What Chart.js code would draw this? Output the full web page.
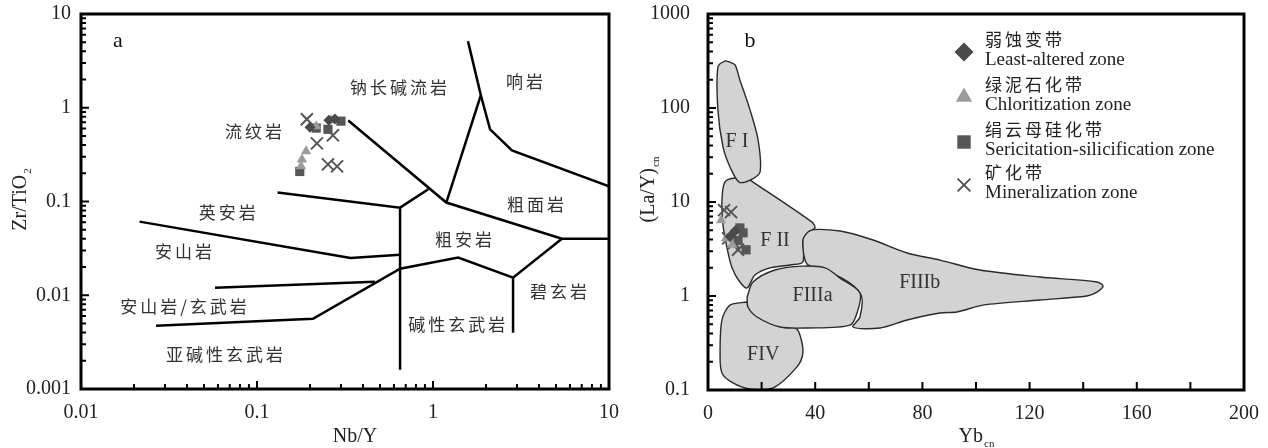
<!DOCTYPE html>
<html>
<head>
<meta charset="utf-8">
<script src="https://cdn.jsdelivr.net/npm/chart.js@4.4.0/dist/chart.umd.min.js"></script>
<style>
  html, body { margin: 0; padding: 0; background: #fff; }
  #wrap { position: relative; width: 1268px; height: 448px; }
  .box { position: absolute; top: 0; width: 634px; height: 448px; }
</style>
</head>
<body>
<div id="wrap">
  <div class="box" style="left:0"><canvas id="chartA" width="634" height="448"></canvas></div>
  <div class="box" style="left:634px"><canvas id="chartB" width="634" height="448"></canvas></div>
</div>
<script>
// ---- panel a : Nb/Y vs Zr/TiO2 ----
var aLeastAltered = [[0.200, 0.618], [0.256, 0.735], [0.277, 0.76]];
var aChlorite = [[0.217, 0.634], [0.263, 0.735], [0.190, 0.343], [0.180, 0.281], [0.178, 0.237]];
var aSericite = [[0.217, 0.607], [0.253, 0.589], [0.300, 0.72], [0.175, 0.209]];
var aMineral = [[0.192, 0.753], [0.270, 0.508], [0.219, 0.417], [0.253, 0.249], [0.285, 0.237]];

// field boundaries (Winchester & Floyd)
var aBoundaries = [
  [[0.33, 0.73], [1.19, 0.0975], [5.4, 0.040], [10, 0.040]],
  [[0.131, 0.125], [0.65, 0.086], [0.94, 0.135]],
  [[0.65, 0.086], [0.65, 0.0016]],
  [[0.0215, 0.061], [0.34, 0.025], [0.65, 0.027]],
  [[0.0577, 0.012], [0.468, 0.0139]],
  [[0.0267, 0.00472], [0.208, 0.0056], [0.65, 0.0192], [1.39, 0.0252], [2.85, 0.0154], [5.4, 0.040]],
  [[2.85, 0.0154], [2.85, 0.00397]],
  [[1.19, 0.0975], [1.87, 1.36], [1.58, 5.14]],
  [[1.87, 1.36], [2.11, 0.589], [2.81, 0.351], [10, 0.145]]
];
var aFieldNames = ['钠长碱流岩', '响岩', '流纹岩', '粗面岩', '英安岩', '安山岩', '粗安岩', '碧玄岩', '安山岩/玄武岩', '碱性玄武岩', '亚碱性玄武岩'];
var aFieldAt = [[0.65, 1.66], [3.38, 1.92], [0.0975, 0.56], [3.9, 0.093], [0.069, 0.076], [0.039, 0.0292], [1.52, 0.0392], [5.27, 0.0109], [0.039, 0.00753], [1.39, 0.00483], [0.0667, 0.00231]];
var aTickLabels = ['0.001', '0.01', '0.1', '1', '10'];   // 10^-3 .. 10^1
var aXTickLabels = ['0.01', '0.1', '1', '10'];           // 10^-2 .. 10^1

// ---- panel b : Ybcn vs (La/Y)cn ----
var bLeastAltered = [[10.1, 4.9], [8.2, 4.3]];
var bChlorite = [[4.9, 6.4], [6.7, 4.1], [9.0, 3.5]];
var bSericite = [[11.9, 5.3], [13.1, 4.7], [14.2, 3.1], [11.2, 3.9]];
var bMineral = [[6.0, 8.2], [8.6, 7.8], [7.5, 4.1], [9.7, 3.66], [11.2, 3.1]];

var fieldFI = [[8.2, 308], [6.3, 316], [3.7, 273], [3.7, 95], [5.6, 38.5], [8.2, 23.6], [11.6, 16.3], [15.7, 17.1], [19.4, 20.8], [18.7, 45.6], [15.7, 95], [11.9, 199], [10.1, 287], [8.2, 308]];
var fieldFII = [[15.7, 17.1], [38.8, 6.1], [39.9, 5.3], [37.3, 4.8], [35.4, 3.94], [35.4, 2.30], [30.6, 2.14], [23.1, 1.99], [17.5, 1.67], [14.6, 1.22], [11.9, 1.41], [9.0, 1.99], [7.1, 3.24], [5.6, 5.7], [5.2, 10.5], [6.3, 16.3], [10.1, 18.0], [15.7, 17.1]];
var fieldFIIIa = [[14.6, 0.975], [16.8, 1.41], [25, 1.89], [35.4, 2.08], [43.7, 1.99], [49.3, 1.55], [56.7, 1.08], [55.6, 0.66], [53.0, 0.49], [36.9, 0.457], [26.9, 0.468], [18.3, 0.598], [14.9, 0.764], [14.6, 0.975]];
var fieldFIIIb = [[35.4, 4.46], [37.3, 5.04], [49.3, 4.91], [61.6, 3.94], [74.3, 2.87], [86.6, 2.41], [101.5, 1.89], [123.9, 1.59], [145.1, 1.41], [147.4, 1.28], [145.1, 1.10], [141.4, 1.0], [123.9, 0.906], [102.6, 0.80], [92.9, 0.676], [86.6, 0.66], [74.3, 0.556], [64.2, 0.457], [54.1, 0.468], [56.7, 0.598], [57.1, 1.03], [50, 1.55], [37.3, 2.14], [35.4, 3.08], [35.4, 4.46]];
var fieldFIV = [[14.6, 0.863], [8.2, 0.80], [5.2, 0.556], [4.5, 0.248], [5.2, 0.152], [9.3, 0.119], [15.7, 0.1025], [24.3, 0.105], [33.2, 0.176], [35.4, 0.248], [34.3, 0.385], [32.5, 0.457], [26.9, 0.48], [18.3, 0.612], [14.6, 0.863]];
var bFieldNames = ['F I', 'F II', 'FIIIa', 'FIIIb', 'FIV'];
var bFieldAt = [[10.8, 43.5], [25, 3.85], [39, 1.0], [79, 1.38], [20.6, 0.236]];
var bYTickLabels = ['0.1', '1', '10', '100', '1000'];   // 10^-1 .. 10^3

var seriesNames = ['弱蚀变带', '绿泥石化带', '绢云母硅化带', '矿化带'];
var seriesNamesEn = ['Least-altered zone', 'Chloritization zone', 'Sericitation-silicification zone', 'Mineralization zone'];

var serif = '"Liberation Serif", "Times New Roman", serif';
var cjk = '"Noto Sans CJK SC", sans-serif';
var ink = '#222';

function pts(arr) {
  return arr.map(function(p) { return {x: p[0], y: p[1]}; });
}

function markerSets(lists) {
  var styles = [
    {pointStyle: 'rectRot', radius: 5.5, backgroundColor: '#4a4a4a', borderColor: '#4a4a4a', borderWidth: 0},
    {pointStyle: 'triangle', radius: 6, backgroundColor: '#9b9b9b', borderColor: '#9b9b9b', borderWidth: 0},
    {pointStyle: 'rect', radius: 6.5, backgroundColor: '#565656', borderColor: '#565656', borderWidth: 0},
    {pointStyle: 'crossRot', radius: 8.5, backgroundColor: '#555', borderColor: '#555', borderWidth: 2}
  ];
  return lists.map(function(list, i) {
    var s = styles[i];
    return {
      label: seriesNames[i],
      data: pts(list),
      showLine: false,
      pointStyle: s.pointStyle,
      pointRadius: s.radius,
      pointBackgroundColor: s.backgroundColor,
      pointBorderColor: s.borderColor,
      pointBorderWidth: s.borderWidth,
      order: 0
    };
  });
}

function logLabel(labels, first) {
  return function(v) {
    var e = Math.log10(v), r = Math.round(e);
    return Math.abs(e - r) < 1e-6 ? (labels[r - first] || '') : '';
  };
}

function logTickValues(min, max) {
  var out = [];
  for (var e = Math.round(Math.log10(min)); e < Math.round(Math.log10(max)); e++) {
    for (var k = 1; k < 10; k++) out.push({v: k * Math.pow(10, e), major: k === 1});
  }
  out.push({v: max, major: true});
  return out;
}

// fixed axis boxes so the plot area sits where the figure has it
function fixY(width) {
  return function(s) { s.width = width; s.paddingTop = 0; s.paddingBottom = 0; };
}
function fixX(height) {
  return function(s) { s.height = height; s.paddingLeft = 0; s.paddingRight = 0; };
}

function drawSub(ctx, main, sub, x, y, size) {
  ctx.font = size + 'px ' + serif;
  var w1 = ctx.measureText(main).width;
  ctx.font = (size * 0.55) + 'px ' + serif;
  var w2 = ctx.measureText(sub).width;
  var sx = x - (w1 + w2) / 2;
  ctx.textAlign = 'left';
  ctx.textBaseline = 'middle';
  ctx.font = size + 'px ' + serif;
  ctx.fillText(main, sx, y);
  ctx.font = (size * 0.55) + 'px ' + serif;
  ctx.fillText(sub, sx + w1 + 1, y + size * 0.38);
}

// frame with inward ticks, field names and axis titles
function framePlugin(cfg) {
  return {
    id: 'frame',
    afterDatasetsDraw: function(chart) {
      var ctx = chart.ctx, a = chart.chartArea;
      var xs = chart.scales.x, ys = chart.scales.y;
      ctx.save();
      ctx.strokeStyle = '#000';
      ctx.lineWidth = 3;
      ctx.strokeRect(a.left, a.top, a.right - a.left, a.bottom - a.top);

      ctx.lineWidth = 2;
      ctx.beginPath();
      cfg.xTicks.forEach(function(t) {
        var px = xs.getPixelForValue(t.v), len = t.major ? 8 : 5;
        ctx.moveTo(px, a.bottom);
        ctx.lineTo(px, a.bottom - len);
      });
      cfg.yTicks.forEach(function(t) {
        var py = ys.getPixelForValue(t.v), len = t.major ? 8 : 5;
        ctx.moveTo(a.left, py);
        ctx.lineTo(a.left + len, py);
      });
      ctx.stroke();

      // field names
      ctx.fillStyle = '#333';
      ctx.textAlign = 'center';
      ctx.textBaseline = 'middle';
      ctx.font = cfg.fieldFont;
      ctx.letterSpacing = cfg.spacing;
      cfg.names.forEach(function(n, i) {
        ctx.fillText(n, xs.getPixelForValue(cfg.at[i][0]), ys.getPixelForValue(cfg.at[i][1]));
      });
      ctx.letterSpacing = '0px';

      // panel letter
      ctx.fillStyle = '#111';
      ctx.font = '22px ' + serif;
      ctx.fillText(cfg.letter, a.left + cfg.letterAt[0], a.top + cfg.letterAt[1]);

      // axis titles
      ctx.fillStyle = ink;
      cfg.xTitle(ctx);
      cfg.yTitle(ctx);
      if (cfg.legend) cfg.legend(ctx, chart);
      ctx.restore();
    }
  };
}

var aLineSets = aBoundaries.map(function(seg) {
  return {
    data: pts(seg), showLine: true, borderColor: '#000', borderWidth: 2.5,
    pointRadius: 0, tension: 0, fill: false, order: 2
  };
});

new Chart(document.getElementById('chartA'), {
  type: 'scatter',
  data: {datasets: aLineSets.concat(markerSets([aLeastAltered, aChlorite, aSericite, aMineral]))},
  options: {
    responsive: false,
    animation: false,
    layout: {padding: {top: 14, right: 25, left: 0, bottom: 0}},
    plugins: {legend: {display: false}, tooltip: {enabled: false}},
    scales: {
      x: {
        type: 'logarithmic', min: 0.01, max: 10,
        grid: {display: false, drawTicks: false}, border: {display: false},
        ticks: {autoSkip: false, maxRotation: 0, padding: 12, color: ink, font: {family: serif, size: 20},
          callback: logLabel(aXTickLabels, -2)},
        afterFit: fixX(59)
      },
      y: {
        type: 'logarithmic', min: 0.001, max: 10,
        grid: {display: false, drawTicks: false}, border: {display: false},
        ticks: {autoSkip: false, padding: 10, color: ink, font: {family: serif, size: 20},
          callback: logLabel(aTickLabels, -3)},
        afterFit: fixY(81)
      }
    }
  },
  plugins: [framePlugin({
    xTicks: logTickValues(0.01, 10),
    yTicks: logTickValues(0.001, 10),
    names: aFieldNames, at: aFieldAt,
    fieldFont: '17px ' + cjk, spacing: '3px',
    letter: 'a', letterAt: [37, 27],
    xTitle: function(ctx) {
      ctx.font = '20px ' + serif; ctx.textAlign = 'center'; ctx.textBaseline = 'middle';
      ctx.fillText('Nb/Y', 355, 437);
    },
    yTitle: function(ctx) {
      ctx.save(); ctx.translate(21, 200); ctx.rotate(-Math.PI / 2);
      drawSub(ctx, 'Zr/TiO', '2', 0, 0, 20);
      ctx.restore();
    }
  })]
});

function fieldSet(list) {
  return {
    data: pts(list), showLine: true, borderColor: '#2a2a2a', borderWidth: 1.4,
    backgroundColor: '#d3d3d3', fill: 'shape', pointRadius: 0, tension: 0.3, order: 2
  };
}

var bSeries = markerSets([bLeastAltered, bChlorite, bSericite, bMineral]);

new Chart(document.getElementById('chartB'), {
  type: 'scatter',
  data: {datasets: [fieldFI, fieldFII, fieldFIIIa, fieldFIIIb, fieldFIV].map(fieldSet).concat(bSeries)},
  options: {
    responsive: false,
    animation: false,
    layout: {padding: {top: 14, right: 24, left: 0, bottom: 0}},
    plugins: {legend: {display: false}, tooltip: {enabled: false}},
    scales: {
      x: {
        type: 'linear', min: 0, max: 200,
        grid: {display: false, drawTicks: false}, border: {display: false},
        ticks: {stepSize: 20, autoSkip: false, maxRotation: 0, padding: 12, color: ink, font: {family: serif, size: 20},
          callback: function(v) { return v % 40 === 0 ? String(v) : ''; }},
        afterFit: fixX(58)
      },
      y: {
        type: 'logarithmic', min: 0.1, max: 1000,
        grid: {display: false, drawTicks: false}, border: {display: false},
        ticks: {autoSkip: false, padding: 18, color: ink, font: {family: serif, size: 20},
          callback: logLabel(bYTickLabels, -1)},
        afterFit: fixY(74)
      }
    }
  },
  plugins: [framePlugin({
    xTicks: [0, 20, 40, 60, 80, 100, 120, 140, 160, 180, 200].map(function(v) { return {v: v, major: true}; }),
    yTicks: logTickValues(0.1, 1000),
    names: bFieldNames, at: bFieldAt,
    fieldFont: '20px ' + serif, spacing: '0px',
    letter: 'b', letterAt: [42, 27],
    xTitle: function(ctx) { drawSub(ctx, 'Yb', 'cn', 342, 437, 20); },
    yTitle: function(ctx) {
      ctx.save(); ctx.translate(15, 190); ctx.rotate(-Math.PI / 2);
      drawSub(ctx, '(La/Y)', 'cn', 0, 0, 20);
      ctx.restore();
    },
    legend: function(ctx, chart) {
      var a = chart.chartArea;
      var mx = a.left + 256, tx = a.left + 277;
      var rows = [26, 71, 116, 159];
      bSeries.forEach(function(ds, i) {
        var y = a.top + rows[i];
        ctx.fillStyle = ds.pointBackgroundColor;
        ctx.strokeStyle = ds.pointBorderColor;
        ctx.lineWidth = ds.pointBorderWidth || 0;
        Chart.helpers.drawPoint(ctx, {
          pointStyle: ds.pointStyle, radius: ds.pointStyle === 'crossRot' ? 9 : 9.5,
          rotation: 0, borderWidth: ds.pointBorderWidth || 0
        }, mx, y + 12);
        ctx.fillStyle = '#222';
        ctx.textAlign = 'left';
        ctx.textBaseline = 'middle';
        ctx.font = '17px ' + cjk;
        ctx.letterSpacing = '3px';
        ctx.fillText(seriesNames[i], tx, y);
        ctx.letterSpacing = '0px';
        ctx.font = '19px ' + serif;
        ctx.fillText(seriesNamesEn[i], tx, y + 20);
      });
    }
  })]
});
</script>
</body>
</html>
